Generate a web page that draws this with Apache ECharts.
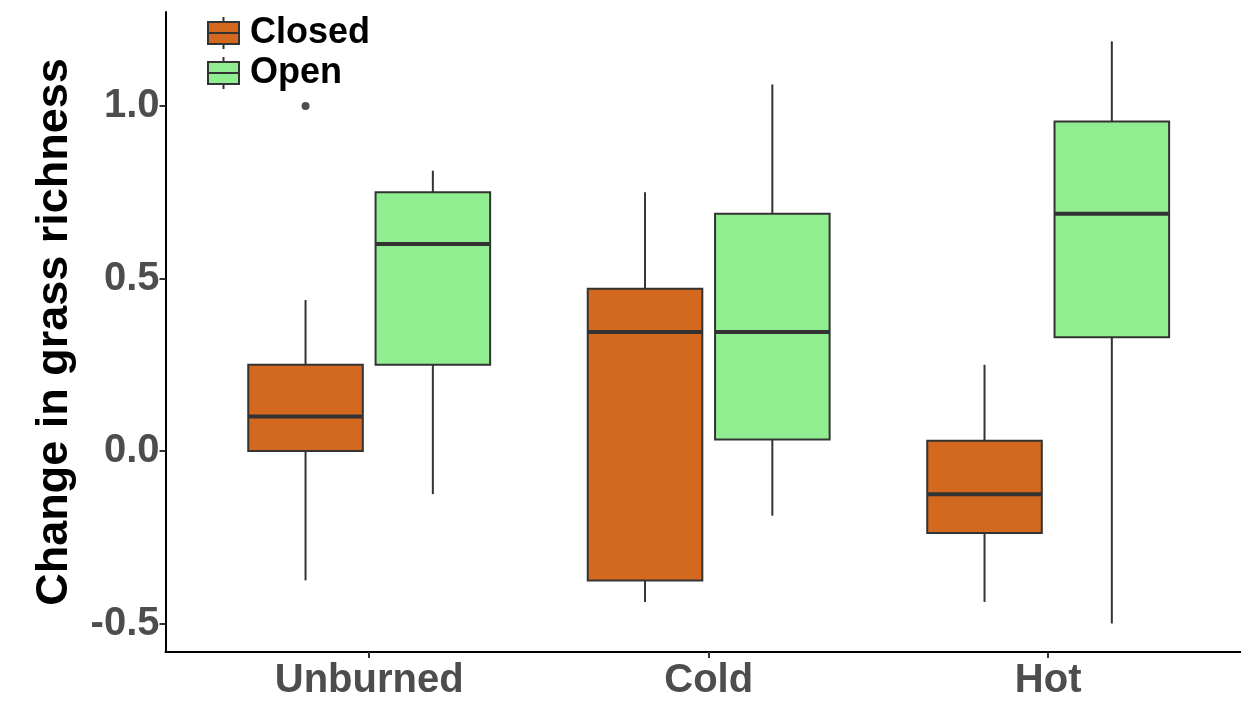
<!DOCTYPE html>
<html>
<head>
<meta charset="utf-8">
<script src="https://cdn.jsdelivr.net/npm/echarts@6/dist/echarts.min.js"></script>
<style>
  html, body { margin: 0; padding: 0; background: #fff; }
  #chart { width: 1241px; height: 706px; }
</style>
</head>
<body>
<div id="chart"></div>
<script>
// Fire treatments along the x axis
const categories = ['Unburned', 'Cold', 'Hot'];
const yTicks = [-0.5, 0, 0.5, 1.0];

// Five-number summaries per treatment: [low whisker, Q1, median, Q3, high whisker]
const closedStats = [
  [-0.375, 0.0, 0.1, 0.25, 0.4375],
  [-0.4375, -0.375, 0.345, 0.47, 0.75],
  [-0.4375, -0.2375, -0.125, 0.03, 0.25]
];
const openStats = [
  [-0.125, 0.25, 0.6, 0.75, 0.8125],
  [-0.1875, 0.0333, 0.345, 0.6875, 1.0625],
  [-0.5, 0.33, 0.6875, 0.955, 1.1875]
];
// Outliers: [category index, value]
const closedOutliers = [[0, 1.0]];

const CLOSED_COLOR = '#D2691E';
const OPEN_COLOR = '#90EE90';
const LINE_COLOR = '#333333';
const DODGE = 0.1875;      // half of the dodge width, in category units
const BOX_W = 0.3375;      // box width, in category units
const FONT = '"Liberation Sans", Arial, sans-serif';

// Mini boxplot glyph for the legend keys
const BOX_ICON = 'path://M15.5,0L15.5,5M0,5L31,5L31,16L0,16ZM0,16L31,16L31,27L0,27ZM15.5,27L15.5,32';

function toRows(stats) {
  return stats.map((s, i) => [i + 1].concat(s));
}

function makeBoxRenderer(offset, fill) {
  return function (params, api) {
    const x = api.value(0) + offset;
    const lo = api.value(1), q1 = api.value(2), med = api.value(3),
          q3 = api.value(4), hi = api.value(5);
    const unit = api.size([1, 0])[0];
    const half = unit * BOX_W / 2;
    const cx = api.coord([x, med])[0];
    const yLo = api.coord([x, lo])[1];
    const yQ1 = api.coord([x, q1])[1];
    const yMed = api.coord([x, med])[1];
    const yQ3 = api.coord([x, q3])[1];
    const yHi = api.coord([x, hi])[1];
    const lineStyle = { stroke: LINE_COLOR, lineWidth: 2 };
    return {
      type: 'group',
      children: [
        { type: 'line', shape: { x1: cx, y1: yHi, x2: cx, y2: yQ3 }, style: lineStyle },
        { type: 'line', shape: { x1: cx, y1: yQ1, x2: cx, y2: yLo }, style: lineStyle },
        {
          type: 'rect',
          shape: { x: cx - half, y: yQ3, width: half * 2, height: yQ1 - yQ3 },
          style: { fill: fill, stroke: LINE_COLOR, lineWidth: 2 }
        },
        {
          type: 'line',
          shape: { x1: cx - half, y1: yMed, x2: cx + half, y2: yMed },
          style: { stroke: LINE_COLOR, lineWidth: 4 }
        }
      ]
    };
  };
}

const chart = echarts.init(document.getElementById('chart'), null, { renderer: 'canvas' });

chart.setOption({
  animation: false,
  backgroundColor: '#ffffff',
  grid: { left: 165.5, right: 0, top: 12, bottom: 54 },
  legend: {
    orient: 'vertical',
    left: 202,
    top: 10,
    itemWidth: 31,
    itemHeight: 32,
    itemGap: 4,
    textStyle: { fontFamily: FONT, fontWeight: 'bold', fontSize: 36, color: '#000', padding: [0, 0, 0, 6] },
    data: [
      { name: 'Closed', icon: BOX_ICON, itemStyle: { color: CLOSED_COLOR, borderColor: LINE_COLOR, borderWidth: 2 } },
      { name: 'Open', icon: BOX_ICON, itemStyle: { color: OPEN_COLOR, borderColor: LINE_COLOR, borderWidth: 2 } }
    ]
  },
  xAxis: {
    type: 'value',
    min: 0.4,
    max: 3.568,
    axisLine: { show: true, onZero: false, lineStyle: { color: '#000', width: 2 } },
    axisTick: { show: true, customValues: [1, 2, 3], length: 6, lineStyle: { color: LINE_COLOR, width: 2 } },
    axisLabel: {
      customValues: [1, 2, 3],
      formatter: v => categories[Math.round(v) - 1],
      fontFamily: FONT, fontWeight: 'bold', fontSize: 40, color: '#4D4D4D', margin: 9
    },
    splitLine: { show: false }
  },
  yAxis: {
    type: 'value',
    min: -0.5826,
    max: 1.2725,
    name: 'Change in grass richness',
    nameLocation: 'middle',
    nameGap: 88,
    nameTextStyle: { fontFamily: FONT, fontWeight: 'bold', fontSize: 45, color: '#000' },
    axisLine: { show: true, onZero: false, lineStyle: { color: '#000', width: 2 } },
    axisTick: { show: true, customValues: yTicks, length: 6, lineStyle: { color: LINE_COLOR, width: 2 } },
    axisLabel: {
      customValues: yTicks,
      formatter: v => v.toFixed(1),
      fontFamily: FONT, fontWeight: 'bold', fontSize: 40, color: '#4D4D4D', margin: 6
    },
    splitLine: { show: false }
  },
  series: [
    {
      name: 'Closed',
      type: 'custom',
      itemStyle: { color: CLOSED_COLOR, borderColor: LINE_COLOR },
      renderItem: makeBoxRenderer(-DODGE, CLOSED_COLOR),
      encode: { x: 0, y: [1, 2, 3, 4, 5] },
      data: toRows(closedStats),
      z: 2
    },
    {
      name: 'Open',
      type: 'custom',
      itemStyle: { color: OPEN_COLOR, borderColor: LINE_COLOR },
      renderItem: makeBoxRenderer(DODGE, OPEN_COLOR),
      encode: { x: 0, y: [1, 2, 3, 4, 5] },
      data: toRows(openStats),
      z: 2
    },
    {
      name: 'Closed',
      type: 'scatter',
      symbol: 'circle',
      symbolSize: 8,
      itemStyle: { color: '#222' },
      data: closedOutliers.map(o => [o[0] + 1 - DODGE, o[1]]),
      z: 3
    }
  ]
});
</script>
</body>
</html>
